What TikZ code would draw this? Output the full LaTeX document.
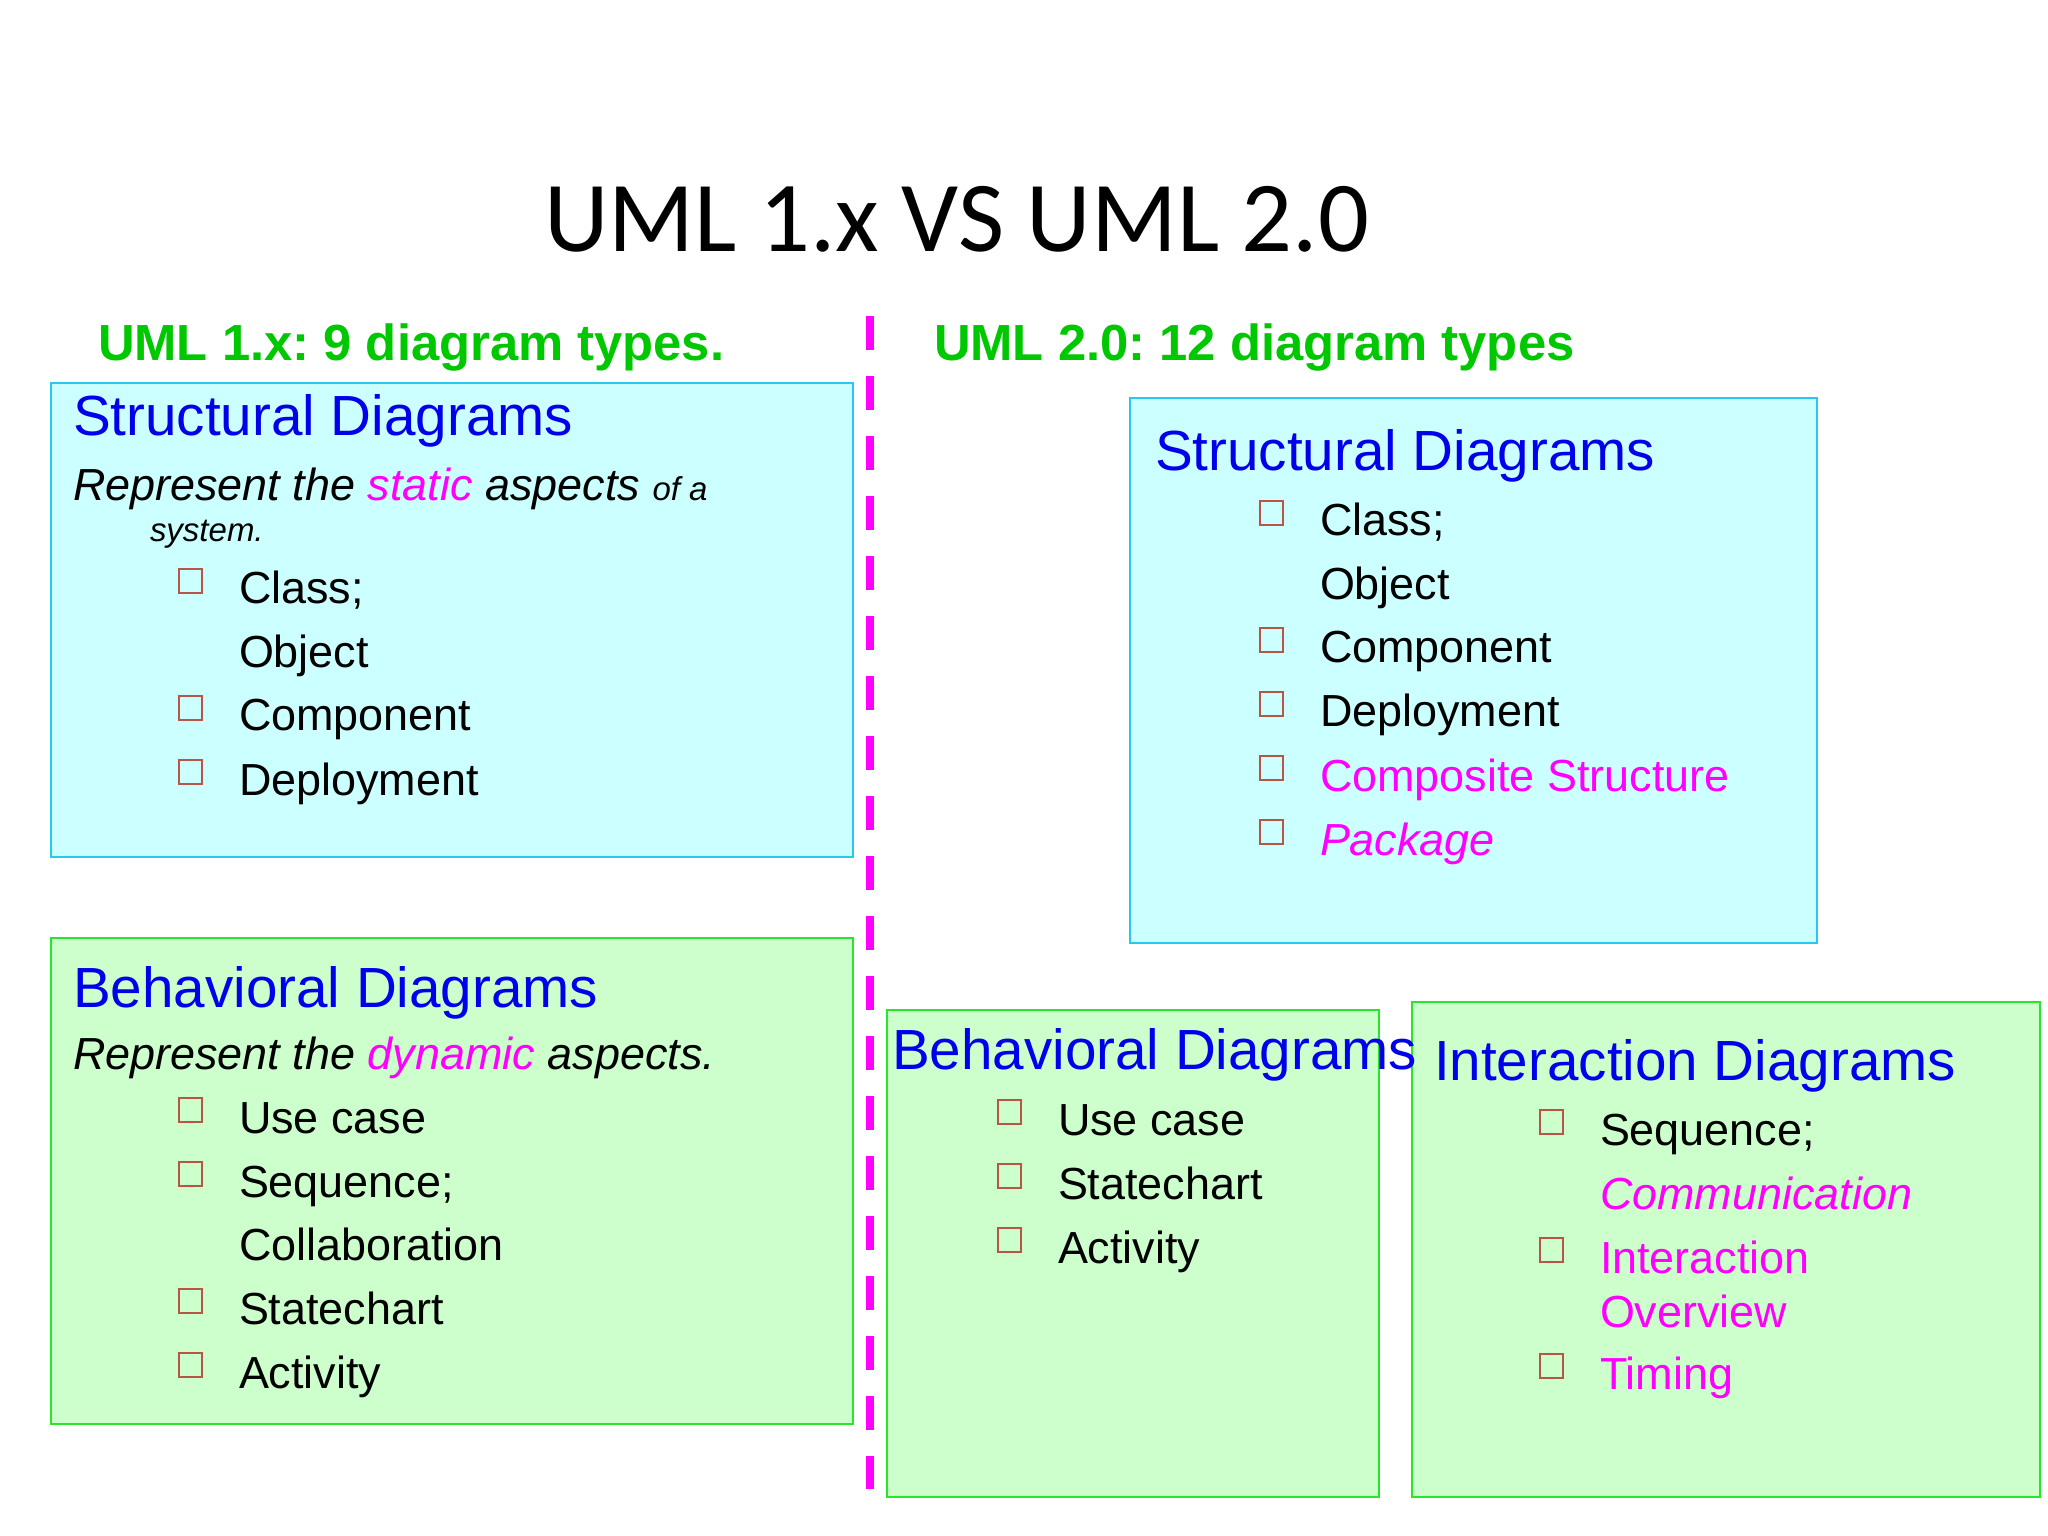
\documentclass[tikz,border=0pt]{standalone}
\usepackage{fontspec}
\setmainfont{Liberation Sans}
\newfontfamily\titlefont{Carlito}
\frenchspacing
\definecolor{hdrgreen}{RGB}{0,200,0}
\definecolor{hblue}{RGB}{0,0,235}
\definecolor{mag}{RGB}{255,0,255}
\definecolor{cyfill}{RGB}{204,255,255}
\definecolor{cyline}{RGB}{40,200,240}
\definecolor{grfill}{RGB}{204,255,204}
\definecolor{grline}{RGB}{40,230,40}
\definecolor{bulcol}{RGB}{185,85,70}
\tikzset{
  txt/.style={anchor=base west, inner sep=0pt, outer sep=0pt},
  body/.style={txt, font=\fontsize{15.8}{19}\selectfont},
  hdr/.style={txt, text=hblue, font=\fontsize{19.9}{24}\selectfont},
  grn/.style={txt, text=hdrgreen, font=\bfseries\fontsize{17.85}{21}\selectfont},
  cybox/.style={draw=cyline, fill=cyfill, line width=0.7pt},
  grbox/.style={draw=grline, fill=grfill, line width=0.7pt},
  bulletbox/.style={draw=bulcol, line width=0.6pt},
  divider/.style={draw=mag, line width=2.81pt, dash pattern=on 11.95pt off 9.14pt},
}
\newcommand\bulsq[2]{\draw[bulletbox] (#1,#2-34) rectangle ++(23,24);}
\begin{document}
\begin{tikzpicture}[x=0.3515625pt, y=-0.3515625pt]
\useasboundingbox[fill=white] (0,0) rectangle (2048,1536);

% boxes
\draw[cybox] (51,383) rectangle (853,857);
\draw[grbox] (51,938) rectangle (853,1424);
\draw[cybox] (1130,398) rectangle (1817,943);
\draw[grbox] (887,1010) rectangle (1379,1497);
\draw[grbox] (1412,1002) rectangle (2040,1497);

% divider
\coordinate (dtop) at (870,316);
\coordinate (dbot) at (870,1489);
\draw[divider] (dtop) -- (dbot);

% title and headings
\node[anchor=base, inner sep=0pt] (title) at (956.6,252) {\titlefont\fontsize{35.3}{42}\selectfont UML 1.x VS UML 2.0};
\node[grn] (g1) at (98,360.5) {UML 1.x: 9 diagram types.};
\node[grn] (g2) at (934,360.5) {UML 2.0: 12 diagram types};

% left structural
\node[hdr] (ls) at (73,436) {Structural Diagrams};
\node[body] (lsr) at (73,501) {\itshape Represent the \textcolor{mag}{static} aspects {\fontsize{11.6}{14}\selectfont of a}};
\node[txt, font=\itshape\fontsize{11.6}{14}\selectfont] (lss) at (150,542) {system.};
\bulsq{179}{603}
\node[body] (ls1) at (239,604) {Class;};
\node[body] (ls2) at (239,668) {Object};
\bulsq{179}{730}
\node[body] (ls3) at (239,731) {Component};
\bulsq{179}{794}
\node[body] (ls4) at (239,795) {Deployment};

% left behavioral
\node[hdr] (lb) at (73,1007) {Behavioral Diagrams};
\node[body] (lbr) at (73,1069) {\itshape Represent the \textcolor{mag}{dynamic} aspects.};
\bulsq{179}{1132}
\node[body] (lb1) at (239,1133) {Use case};
\bulsq{179}{1196}
\node[body] (lb2) at (239,1197) {Sequence;};
\node[body] (lb3) at (239,1260) {Collaboration};
\bulsq{179}{1323}
\node[body] (lb4) at (239,1324) {Statechart};
\bulsq{179}{1387}
\node[body] (lb5) at (239,1388) {Activity};

% right structural
\node[hdr] (rs) at (1155,471) {Structural Diagrams};
\bulsq{1260}{535}
\node[body] (rs1) at (1320,536) {Class;};
\node[body] (rs2) at (1320,600) {Object};
\bulsq{1260}{662}
\node[body] (rs3) at (1320,663) {Component};
\bulsq{1260}{726}
\node[body] (rs4) at (1320,727) {Deployment};
\bulsq{1260}{790}
\node[body, text=mag] (rs5) at (1320,791) {Composite Structure};
\bulsq{1260}{854}
\node[body, text=mag] (rs6) at (1320,855) {\itshape Package};

% right behavioral
\node[hdr] (rb) at (892,1069) {Behavioral Diagrams};
\bulsq{998}{1134}
\node[body] (rb1) at (1058,1135) {Use case};
\bulsq{998}{1198}
\node[body] (rb2) at (1058,1199) {Statechart};
\bulsq{998}{1262}
\node[body] (rb3) at (1058,1263) {Activity};

% interaction
\node[hdr] (ri) at (1434,1080) {Interaction Diagrams};
\bulsq{1540}{1144}
\node[body] (ri1) at (1600,1145) {Sequence;};
\node[body, text=mag] (ri2) at (1600,1209) {\itshape Communication};
\bulsq{1540}{1272}
\node[body, text=mag] (ri3) at (1600,1273) {Interaction};
\node[body, text=mag] (ri4) at (1600,1327) {Overview};
\bulsq{1540}{1388}
\node[body, text=mag] (ri5) at (1600,1389) {Timing};
\end{tikzpicture}
\end{document}
